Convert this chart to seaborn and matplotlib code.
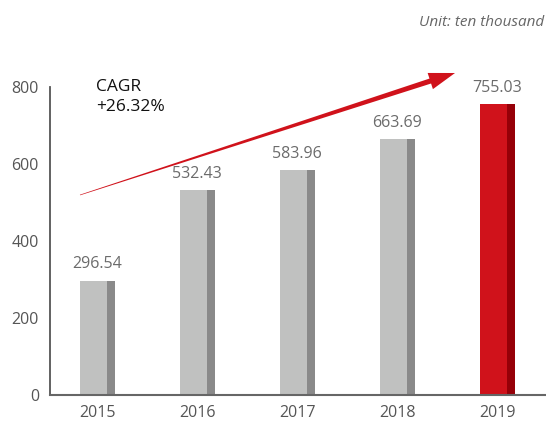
import matplotlib
matplotlib.use('Agg')
import matplotlib.pyplot as plt
import numpy as np
import pandas as pd
import seaborn as sns
from matplotlib.patches import Polygon

# data (unit: ten thousand)
years = ['2015', '2016', '2017', '2018', '2019']
values = [296.54, 532.43, 583.96, 663.69, 755.03]
cagr_text = 'CAGR\n+26.32%'
unit_text = 'Unit: ten thousand'

face_colors = ['#C0C1C0', '#C0C1C0', '#C0C1C0', '#C0C1C0', '#D0121B']
side_colors = ['#8A8A8A', '#8A8A8A', '#8A8A8A', '#8A8A8A', '#960008']

sns.set_style('white')
plt.rcParams['font.family'] = ['Open Sans', 'DejaVu Sans']

df = pd.DataFrame({'year': years, 'value': values})

fig = plt.figure(figsize=(5.46, 4.21), dpi=100)
ax = fig.add_axes([50 / 546, 26 / 421, 495 / 546, 308 / 421])

# front faces
sns.barplot(data=df, x='year', y='value', hue='year', palette=face_colors,
            width=0.27, legend=False, ax=ax, saturation=1)
for p in ax.patches:
    p.set_x(p.get_x() - 0.035)
    p.set_linewidth(0)

# darker side strips for the 3d look
pos = np.arange(len(years))
ax.bar(pos + 0.14, values, width=0.08, color=side_colors, linewidth=0)

for i, v in enumerate(values):
    ax.text(i, v + 22, f'{v:.2f}', ha='center', va='bottom', fontsize=11.5, color='#6b6b6b')

ax.set_xlim(-0.47, 4.48)
ax.set_ylim(0, 800)
ax.set_yticks([0, 200, 400, 600, 800])
ax.set_xlabel('')
ax.set_ylabel('')
ax.tick_params(axis='both', length=0, labelsize=11.5, labelcolor='#555555')
ax.tick_params(axis='y', pad=8)
ax.tick_params(axis='x', pad=7)
for s in ['top', 'right']:
    ax.spines[s].set_visible(False)
ax.spines['left'].set_color('#555555')
ax.spines['bottom'].set_color('#666666')
ax.spines['left'].set_linewidth(1.3)
ax.spines['bottom'].set_linewidth(1.5)

# growth arrow (figure pixel coordinates, tapered)
start = np.array([80.0, 195.0])
tip = np.array([455.0, 73.0])
u = (tip - start) / np.linalg.norm(tip - start)
n = np.array([u[1], -u[0]])
base = tip - 26 * u
pts = [start + 0.3 * n, base + 2.6 * n, base + 8.5 * n, tip,
       base - 8.5 * n, base - 2.6 * n, start - 0.3 * n]
pts = [(x / 546, 1 - y / 421) for x, y in pts]
fig.patches.append(Polygon(pts, closed=True, transform=fig.transFigure,
                           facecolor='#D0121B', edgecolor='none'))

fig.text(96 / 546, 1 - 97 / 421, cagr_text, ha='left', va='center', fontsize=12.5,
         color='#111111', linespacing=1.3)
fig.text(544 / 546, 1 - 22 / 421, unit_text, ha='right', va='center', fontsize=11,
         color='#666666', style='italic')

fig.savefig('out.png', dpi=100)
